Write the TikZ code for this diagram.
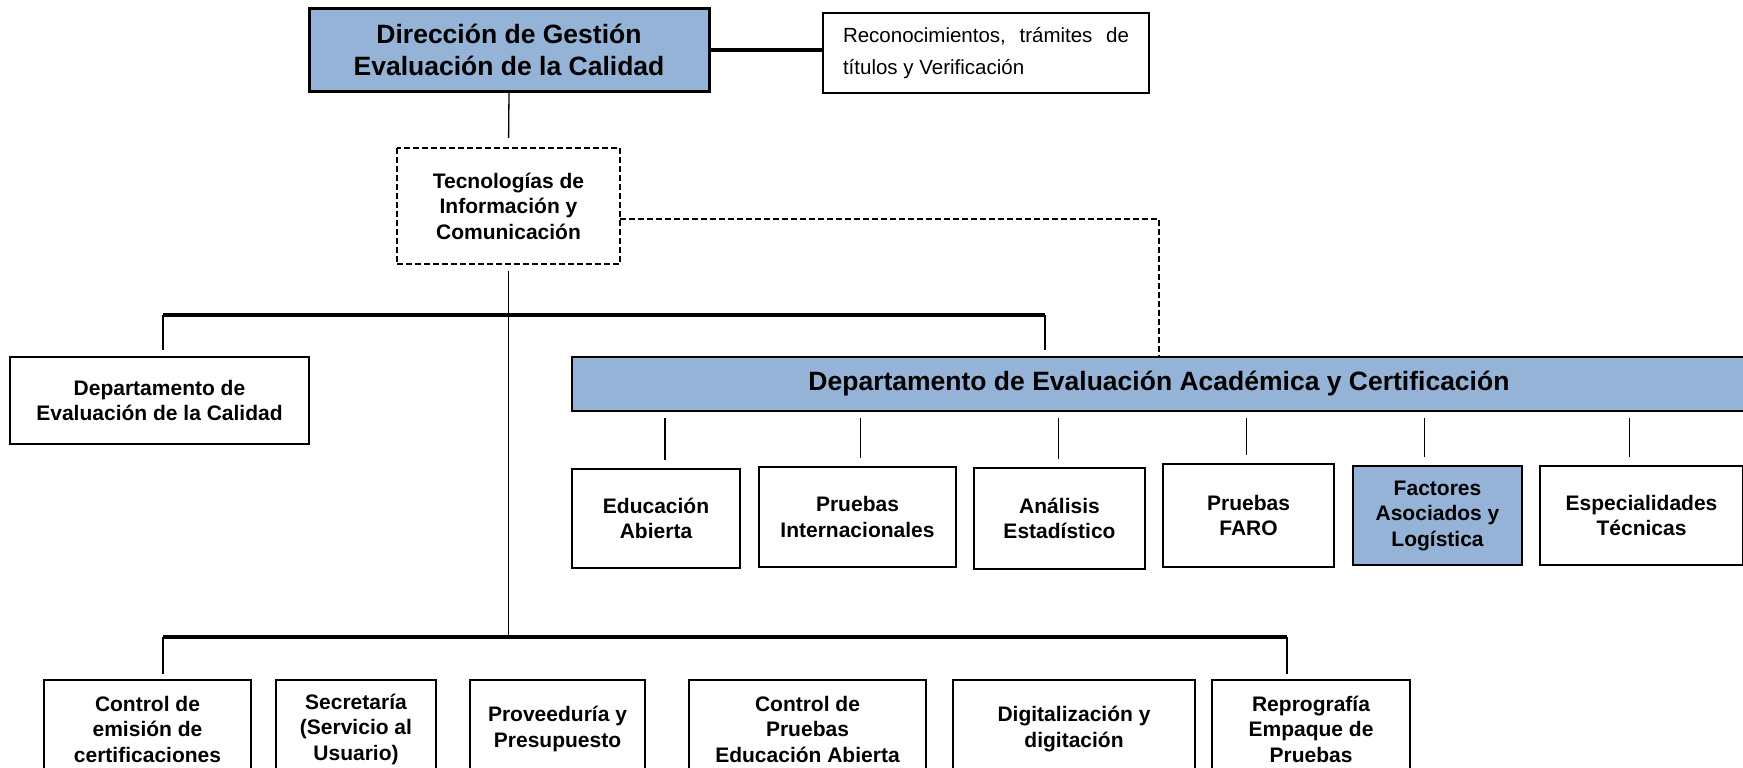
\documentclass[tikz,border=0pt]{standalone}
\usepackage{fontspec}
\setmainfont{Liberation Sans}
\definecolor{cajaazul}{HTML}{95B3D7}
\tikzset{
  caja/.style={draw=black, line width=2.4pt, fill=white, align=center, inner sep=0pt,
               font=\fontsize{21}{25.5}\selectfont\bfseries},
  cajaazulada/.style={caja, fill=cajaazul},
  grande/.style={font=\fontsize{26.5}{32}\selectfont\bfseries},
  linea/.style={line width=1.3pt},
  barra/.style={line width=4.5pt},
  punteada/.style={line width=1.6pt, dash pattern=on 6pt off 3pt}
}
\begin{document}
\begin{tikzpicture}[x=1pt,y=-1pt]
                    \useasboundingbox (0,0) rectangle (1743,768);

                    \node[cajaazulada, grande, line width=3pt, minimum width=400, minimum height=82] (dir) at (509,50) {Dirección de Gestión\\Evaluación de la Calidad};
                    \node[caja, font=\fontsize{20.5}{32}\selectfont, minimum width=326, minimum height=80] (rec) at (986,53)
                         {\parbox{286pt}{\raggedright Reconocimientos,\hfill trámites\hfill de\\títulos y Verificación}};
                    \node[caja, draw=none, minimum width=221, minimum height=114] (tic) at (508.5,206) {Tecnologías de\\Información y\\Comunicación};
                    \draw[punteada] (tic.north west) rectangle (tic.south east);

                    \node[caja, minimum width=299, minimum height=87] (depcal) at (159.5,400.5) {Departamento de\\Evaluación de la Calidad};
                    \node[cajaazulada, grande, minimum width=1174, minimum height=54] (depacad) at (1159,384) {Departamento de Evaluación Académica y Certificación};

                    \node[caja, minimum width=168, minimum height=99]  (edu)  at (656,518.5)    {Educación\\Abierta};
                    \node[caja, minimum width=197, minimum height=100] (pint) at (857.5,517)    {Pruebas\\Internacionales};
                    \node[caja, minimum width=171, minimum height=101] (anal) at (1059.5,518.5) {Análisis\\Estadístico};
                    \node[caja, minimum width=171, minimum height=103] (faro) at (1248.5,515.5) {Pruebas\\FARO};
                    \node[cajaazulada, minimum width=169, minimum height=99] (fact) at (1437.5,515.5) {Factores\\Asociados y\\Logística};
                    \node[caja, minimum width=203, minimum height=99]  (esp)  at (1641.5,515.5) {Especialidades\\Técnicas};

                    \node[caja, minimum width=207, minimum height=98] (cert)  at (147.5,729)  {Control de\\emisión de\\certificaciones};
                    \node[caja, minimum width=160, minimum height=98] (secr)  at (356,729)    {Secretaría\\(Servicio al\\Usuario)};
                    \node[caja, minimum width=175, minimum height=98] (prov)  at (557.5,729)  {Proveeduría y\\Presupuesto};
                    \node[caja, minimum width=237, minimum height=98] (cpea)  at (807.5,729)  {Control de\\Pruebas\\Educación Abierta};
                    \node[caja, minimum width=242, minimum height=98] (digi)  at (1074,729)   {Digitalización y\\digitación};
                    \node[caja, minimum width=198, minimum height=98] (repro) at (1311,729)   {Reprografía\\Empaque de\\Pruebas};

                    \coordinate (BAi) at (163,315);
                    \coordinate (BAd) at (1045,315);
                    \coordinate (BBi) at (163,637);
                    \coordinate (BBd) at (1287,637);

                    \draw[barra] (dir.east) -- (dir.east -| rec.west);
                    \draw[linea, shorten >=10pt] (dir.south) -- (tic.north);
                    \draw[punteada] ([yshift=-13pt]tic.east) -| (depacad.north);
                    \draw[linea, shorten <=7pt] (tic.south) -- (tic.south |- BBi);

                    \draw[barra] (BAi) -- (BAd);
                    \draw[linea, shorten >=6pt] (BAi) -- (BAi |- depcal.north);
                    \draw[linea, shorten >=6pt] (BAd) -- (BAd |- depacad.north);

                    \foreach \n/\d in {edu/9,pint/3,anal/-1,faro/-2,fact/-13,esp/-12}
                      \draw[linea, shorten <=6pt, shorten >=8pt] ([xshift=\d pt]depacad.south -| \n.north) -- ([xshift=\d pt]\n.north);

                    \draw[barra] (BBi) -- (BBd);
                    \draw[linea, shorten >=5pt] (BBi) -- (BBi |- cert.north);
                    \draw[linea, shorten >=5pt] (BBd) -- (BBd |- repro.north);
                \end{tikzpicture}
\end{document}
